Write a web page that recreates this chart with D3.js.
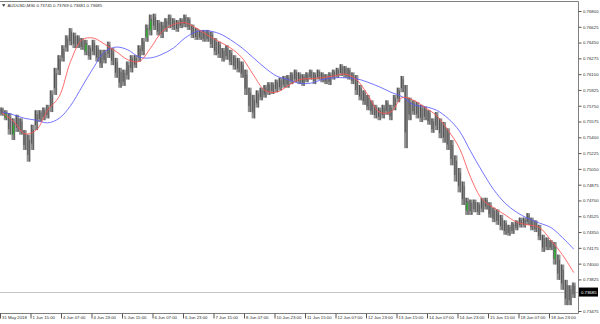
<!DOCTYPE html>
<html>
<head>
<meta charset="utf-8">
<script src="https://cdn.jsdelivr.net/npm/d3@7"></script>
<style>
body { margin: 0; background: #fff; }
svg { display: block; font-family: "Liberation Sans", Arial, sans-serif; }
</style>
</head>
<body>
<svg id="chart" width="600" height="324"></svg>
<script>
// header / last quote
var symbol = "AUDUSD,M30";
var lastOHLC = [0.73745, 0.73769, 0.73681, 0.73685];
var bid = 0.73685;

// bars (each bar here = 4 x M30 bars)
var highs = [
  .7573,.7570,.7567,.7561,.7565,.7561,.7548,.7543,.7554,.7570,
  .7570,.7573,.7576,.7592,.7617,.7631,.7642,.7653,.7661,.7656,
  .7653,.7650,.7648,.7642,.7648,.7642,.7637,.7637,.7646,.7639,
  .7628,.7617,.7615,.7624,.7631,.7631,.7642,.7650,.7665,.7676,
  .7677,.7670,.7668,.7672,.7676,.7672,.7670,.7672,.7676,.7673,
  .7665,.7661,.7659,.7659,.7659,.7657,.7650,.7646,.7639,.7642,
  .7637,.7631,.7628,.7624,.7615,.7595,.7587,.7592,.7595,.7598,
  .7601,.7601,.7604,.7606,.7608,.7609,.7612,.7615,.7612,.7610,
  .7612,.7615,.7612,.7615,.7612,.7610,.7612,.7615,.7617,.7621,
  .7619,.7617,.7612,.7609,.7598,.7592,.7587,.7581,.7576,.7573,
  .7576,.7581,.7576,.7587,.7595,.7608,.7598,.7584,.7581,.7579,
  .7576,.7574,.7570,.7561,.7568,.7561,.7557,.7550,.7537,.7520,
  .7506,.7491,.7473,.7471,.7471,.7468,.7473,.7473,.7468,.7462,
  .7460,.7454,.7448,.7443,.7446,.7448,.7451,.7451,.7456,.7451,
  .7448,.7443,.7432,.7429,.7426,.7424,.7410,.7399,.7382,.7376,
  .7379
];
var lows = [
  .7564,.7559,.7543,.7537,.7546,.7543,.7526,.7513,.7526,.7548,
  .7557,.7559,.7561,.7568,.7587,.7609,.7624,.7635,.7642,.7639,
  .7639,.7637,.7631,.7626,.7631,.7624,.7617,.7622,.7628,.7620,
  .7606,.7595,.7597,.7604,.7612,.7617,.7624,.7631,.7646,.7653,
  .7659,.7653,.7650,.7657,.7661,.7659,.7657,.7661,.7662,.7659,
  .7650,.7648,.7648,.7646,.7646,.7639,.7631,.7628,.7624,.7626,
  .7620,.7615,.7612,.7606,.7587,.7568,.7561,.7573,.7581,.7584,
  .7587,.7588,.7590,.7592,.7595,.7595,.7599,.7601,.7599,.7597,
  .7601,.7604,.7599,.7604,.7601,.7599,.7598,.7604,.7606,.7608,
  .7606,.7604,.7599,.7587,.7581,.7576,.7570,.7565,.7561,.7559,
  .7561,.7565,.7559,.7570,.7579,.7590,.7528,.7559,.7565,.7561,
  .7557,.7559,.7554,.7545,.7548,.7539,.7534,.7526,.7509,.7491,
  .7479,.7465,.7454,.7454,.7457,.7454,.7457,.7460,.7451,.7446,
  .7443,.7437,.7432,.7431,.7433,.7437,.7440,.7440,.7443,.7437,
  .7435,.7426,.7413,.7415,.7415,.7399,.7382,.7371,.7354,.7354,
  .7362
];
var greenBars = [1, 24, 38, 48, 113, 122, 145];

// moving averages, one value every maStep bars
var maStep = 3;
var fastMA = [
  .7567,.7558,.7544,.7548,.7570,.7585,.7624,.7648,.7650,.7643,
  .7635,.7626,.7624,.7639,.7657,.7665,.7667,.7661,.7653,.7646,
  .7639,.7628,.7609,.7592,.7590,.7597,.7604,.7605,.7606,.7608,
  .7610,.7604,.7587,.7568,.7568,.7584,.7581,.7573,.7564,.7548,
  .7528,.7495,.7471,.7462,.7454,.7446,.7443,.7440,.7426,.7410,
  .7390
];
var slowMA = [
  .7568,.7565,.7561,.7559,.7556,.7561,.7575,.7596,.7617,.7635,
  .7640,.7637,.7629,.7628,.7632,.7639,.7650,.7657,.7658,.7655,
  .7648,.7639,.7628,.7617,.7608,.7604,.7600,.7600,.7604,.7606,
  .7606,.7605,.7601,.7596,.7590,.7585,.7576,.7574,.7570,.7561,
  .7547,.7524,.7502,.7482,.7467,.7457,.7450,.7445,.7440,.7429,
  .7416
];

var priceTicks = [0.76800, 0.76625, 0.76450, 0.76275, 0.76100, 0.75925, 0.75750,
  0.75575, 0.75400, 0.75225, 0.75050, 0.74875, 0.74700, 0.74525, 0.74350,
  0.74175, 0.74000, 0.73825, 0.73650, 0.73475];
var timeLabels = ["31 May 2018", "1 Jun 15:00", "4 Jun 07:00", "4 Jun 23:00",
  "5 Jun 15:00", "6 Jun 07:00", "6 Jun 23:00", "7 Jun 15:00", "8 Jun 07:00",
  "10 Jun 23:00", "11 Jun 15:00", "12 Jun 07:00", "12 Jun 23:00", "13 Jun 15:00",
  "14 Jun 07:00", "14 Jun 23:00", "15 Jun 15:00", "18 Jun 07:00", "18 Jun 23:00"];
var barsPerLabel = 8;

var svg = d3.select('#chart');
var plotRight = 578.5, plotBottom = 313.5, plotTop = 1.5;
var fontSize = 4.3;

var x = d3.scaleLinear().domain([0, 152]).range([0, 579.5]);
var y = d3.scaleLinear().domain([0.73475, 0.768]).range([311, 11]);

svg.append('rect').attr('width', 600).attr('height', 324).attr('fill', '#fff');

svg.append('clipPath').attr('id', 'plot')
  .append('rect').attr('x', 0).attr('y', plotTop)
  .attr('width', plotRight).attr('height', plotBottom - plotTop);

var plot = svg.append('g').attr('clip-path', 'url(#plot)');

// current price line
var bidY = Math.round(y(bid)) + 0.5;
plot.append('line')
  .attr('x1', 0).attr('x2', plotRight)
  .attr('y1', bidY).attr('y2', bidY)
  .attr('stroke', '#c4c4c4').attr('stroke-width', 1);

// bars: light body across the slot, dark wicks inside it
var bw = x(1) - x(0);
var bars = plot.append('g').selectAll('g')
  .data(highs)
  .join('g');

bars.append('rect')
  .attr('x', function (d, i) { return x(i); })
  .attr('width', bw)
  .attr('y', function (d) { return y(d); })
  .attr('height', function (d, i) { return y(lows[i]) - y(d); })
  .attr('fill', '#8f8f8f');

bars.append('line')
  .attr('x1', function (d, i) { return x(i) + bw * 0.3; })
  .attr('x2', function (d, i) { return x(i) + bw * 0.3; })
  .attr('y1', function (d) { return y(d); })
  .attr('y2', function (d, i) { return y(lows[i]) - (y(lows[i]) - y(d)) * 0.25; })
  .attr('stroke', '#4a4a4a').attr('stroke-width', 0.9);

bars.append('line')
  .attr('x1', function (d, i) { return x(i) + bw * 0.75; })
  .attr('x2', function (d, i) { return x(i) + bw * 0.75; })
  .attr('y1', function (d, i) { return y(d) + (y(lows[i]) - y(d)) * 0.2; })
  .attr('y2', function (d, i) { return y(lows[i]); })
  .attr('stroke', '#555').attr('stroke-width', 0.8);

bars.filter(function (d, i) { return greenBars.indexOf(i) >= 0; })
  .append('rect')
    .attr('x', function (d) { return x(highs.indexOf(d)) + bw * 0.35; })
    .attr('width', 1.4)
    .attr('y', function (d) { var i = highs.indexOf(d); return y(d) + (y(lows[i]) - y(d)) * 0.3; })
    .attr('height', function (d) { var i = highs.indexOf(d); return (y(lows[i]) - y(d)) * 0.45; })
    .attr('fill', '#2fb52f');

// moving averages
var maLine = d3.line()
  .x(function (d, k) { return x(k * maStep + 0.5); })
  .y(function (d) { return y(d); })
  .curve(d3.curveCatmullRom);

plot.append('path').datum(slowMA)
  .attr('d', maLine)
  .attr('fill', 'none').attr('stroke', '#5c5cff').attr('stroke-width', 1).attr('opacity', 0.85);

plot.append('path').datum(fastMA)
  .attr('d', maLine)
  .attr('fill', 'none').attr('stroke', '#ff5252').attr('stroke-width', 1).attr('opacity', 0.85);

// frame
svg.append('path')
  .attr('d', 'M0,' + plotTop + 'H' + plotRight + 'V' + plotBottom + 'H0')
  .attr('fill', 'none').attr('stroke', '#808080').attr('stroke-width', 1);

// price axis (the label under the bid box is left out, as in the terminal)
var yAxis = d3.axisRight(y)
  .tickValues(priceTicks.filter(function (t) { return Math.abs(y(t) - y(bid)) > 6; }))
  .tickSize(3)
  .tickPadding(1.5)
  .tickFormat(d3.format('.5f'));

var ya = svg.append('g')
  .attr('transform', 'translate(' + plotRight + ',0)')
  .call(yAxis);
ya.select('.domain').remove();
ya.selectAll('line').attr('stroke', '#555');
ya.selectAll('text').attr('font-size', fontSize).attr('fill', '#2a2a2a');
ya.attr('font-family', null);

// time axis
var xAxis = d3.axisBottom(x)
  .tickValues(timeLabels.map(function (t, k) { return k * barsPerLabel; }))
  .tickSize(5)
  .tickFormat(function (d, k) { return timeLabels[k]; });

var xa = svg.append('g')
  .attr('transform', 'translate(0,' + plotBottom + ')')
  .call(xAxis);
xa.select('.domain').remove();
xa.selectAll('line').attr('stroke', '#555');
xa.selectAll('text')
  .attr('font-size', fontSize).attr('fill', '#2a2a2a')
  .attr('text-anchor', 'start')
  .attr('x', 1.5).attr('y', 5).attr('dy', 0);
xa.attr('font-family', null);

// bid box
svg.append('rect')
  .attr('x', plotRight + 0.5).attr('y', y(bid) - 4.5)
  .attr('width', 19).attr('height', 9)
  .attr('fill', '#000');
svg.append('text')
  .attr('x', plotRight + 2.5).attr('y', y(bid) + 1.6)
  .attr('font-size', fontSize).attr('fill', '#fff')
  .text(d3.format('.5f')(bid));

// header
svg.append('path')
  .attr('d', 'M2,4.2L5.4,4.2L3.7,6.8Z')
  .attr('fill', '#333');
svg.append('text')
  .attr('x', 7.5).attr('y', 7.2)
  .attr('font-size', fontSize).attr('fill', '#2a2a2a')
  .text(symbol + '  ' + lastOHLC.map(d3.format('.5f')).join(' '));
</script>
</body>
</html>
